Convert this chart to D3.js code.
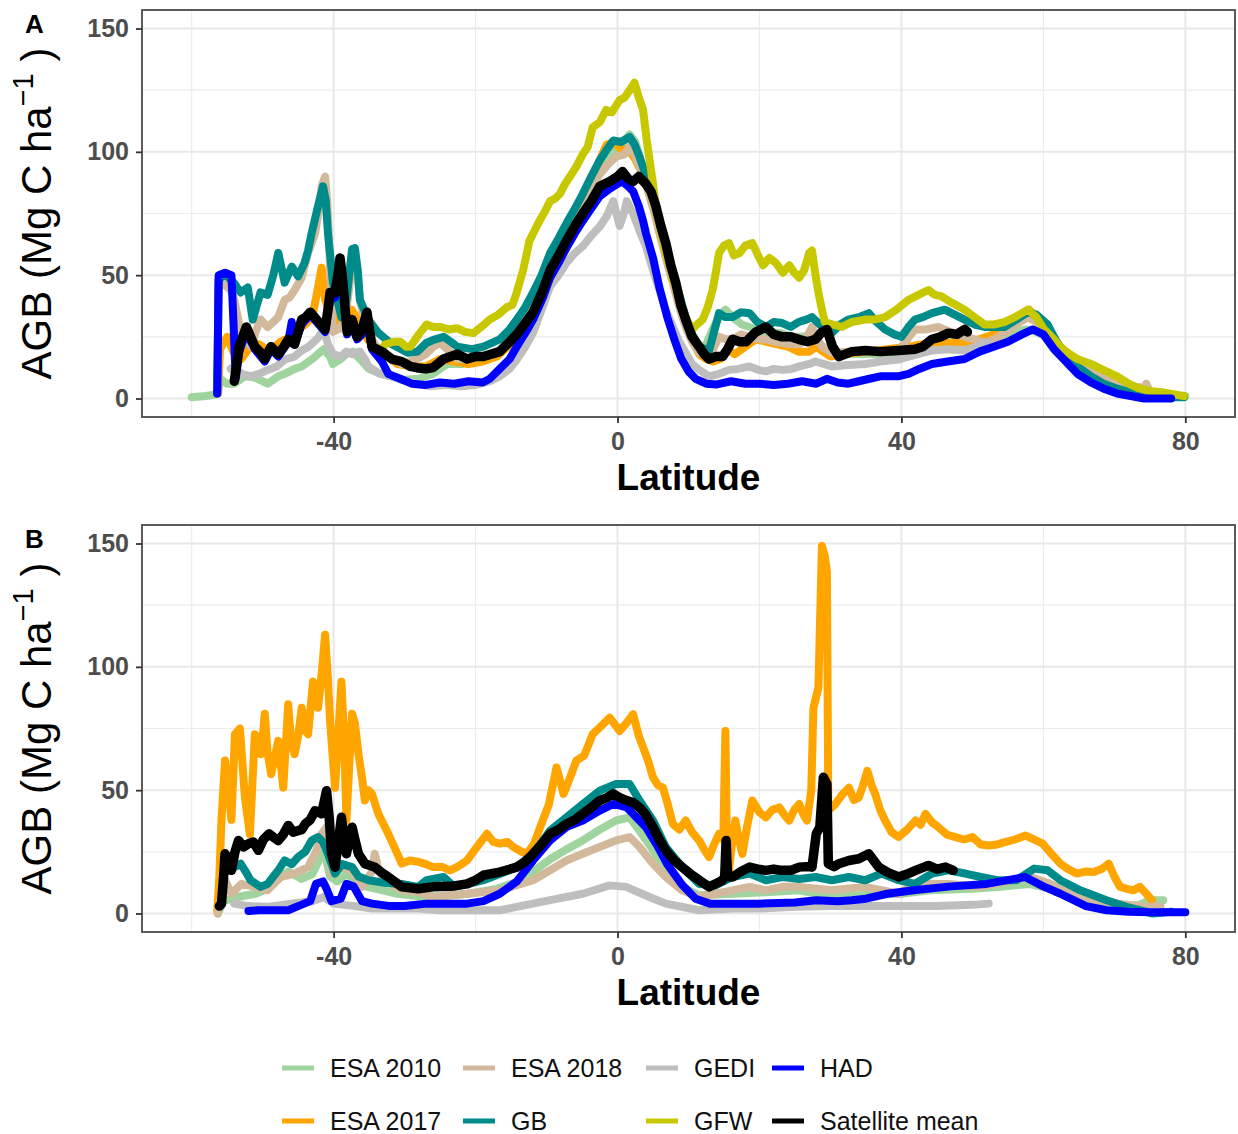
<!DOCTYPE html>
<html>
<head>
<meta charset="utf-8">
<script src="https://cdn.jsdelivr.net/npm/d3@7"></script>
<style>
  html, body { margin: 0; padding: 0; background: #fff; }
  svg { display: block; }
  text { font-family: "Liberation Sans", Arial, sans-serif; }
</style>
</head>
<body>
<svg id="chart" width="1238" height="1134"></svg>
<script>
// Mean above-ground biomass by latitude, panel A and panel B.
// Each series is a list of [latitude, AGB (Mg C / ha)] pairs.

const seriesNames = ["ESA 2010", "ESA 2017", "ESA 2018", "GB", "GEDI", "GFW", "HAD", "Satellite mean"];
const seriesColors = ["#9fd49f", "#ffa500", "#d2b99b", "#008b8b", "#bebebe", "#c8c800", "#0000ff", "#000000"];

const xTicks = [-40, 0, 40, 80];
const xMinor = [-60, -20, 20, 60];
const yTicks = [0, 50, 100, 150];
const yMinor = [25, 75, 125];

// ---------- Panel A ----------
const esa2010A = [[-60,0.5],[-58,1],[-56.9,1.5],[-56.3,2],[-56.0,8],[-55.0,6],[-54.0,6],[-52.5,9],[-51.1,8.5],[-49.3,6],[-47.8,9],[-46.9,10],[-45.5,12],[-44.5,13],[-43.0,16],[-42.2,18],[-41.4,20],[-40.5,17],[-40.1,14],[-39.0,16],[-38.2,18],[-37.3,19],[-36.3,16],[-35.0,12],[-33.4,10],[-31.8,9],[-30.4,7.5],[-28.0,8],[-26.0,10],[-24.0,14],[-22.0,14],[-20.0,15],[-18.0,17],[-16.0,21],[-14.2,28],[-12.5,36],[-11.0,44],[-9.5,55],[-8.0,63],[-6.5,71],[-5.0,79],[-3.5,87],[-2.0,94],[-0.8,100],[0.5,103],[1.7,107],[2.5,104],[3.3,96],[4.3,86],[5.3,75],[6.3,64],[7.3,54],[8.4,43],[9.5,33],[10.5,26],[11.5,21],[12.5,22],[13.4,28],[14.3,33],[15.2,36],[16.2,33],[17.5,30],[18.6,29],[20.0,27],[21.5,27],[23.0,26.5],[24.5,25],[26.0,25],[27.5,26],[28.5,22],[30.0,19],[32.0,18],[35.0,18],[38.0,18],[40.0,19],[42.0,20],[44.0,21],[46.0,22],[48.0,23],[50.0,22],[52.0,23],[54.0,25],[56.0,27],[57.5,28],[59.0,27],[60.5,25],[62.0,20],[64.0,16],[66.0,12],[68.0,9],[70.0,6],[72.0,4],[74.0,2],[76.0,1],[78.0,1],[80.0,1]];

const esa2017A = [[-56.3,2],[-56.0,20],[-55.0,25],[-54.0,18],[-53.0,16],[-52.0,20],[-50.5,22],[-49.0,19],[-47.5,23],[-46.0,25],[-45.0,28],[-44.0,30],[-43.0,33],[-42.2,45],[-41.7,53],[-41.2,40],[-40.5,35],[-39.7,30],[-39.0,38],[-38.4,30],[-37.5,36],[-37.0,34],[-36.2,30],[-35.2,24],[-34.0,20],[-32.5,17],[-31.0,14],[-29.0,13],[-27.0,13],[-25.0,16],[-23.0,15],[-21.0,14],[-19.0,15],[-17.0,17],[-15.5,21],[-14.0,27],[-12.5,34],[-11.0,42],[-9.5,53],[-8.0,62],[-6.5,70],[-5.0,80],[-4.0,87],[-3.0,93],[-2.0,100],[-1.5,103],[-0.5,104],[0.5,101],[1.5,101],[2.5,97],[3.5,91],[4.5,83],[5.5,73],[6.5,61],[7.5,50],[8.5,40],[9.5,31],[10.5,24],[11.5,18],[12.5,16],[13.5,15],[14.5,16],[15.5,20],[16.5,18],[18.0,21],[19.5,24],[21.0,23],[22.5,22],[24.0,21],[25.5,19],[27.0,19],[28.0,21],[29.0,19],[30.0,17],[32.0,18],[35.0,19],[38.0,20],[41.0,21],[43.0,22],[45.0,23],[47.0,22.6],[49.0,23],[51.0,24],[53.0,26],[55.0,30],[57.0,34],[58.0,36],[59.0,33],[60.5,29],[62.0,22],[64.0,17],[66.0,13],[68.0,10],[70.0,7],[72.0,5],[74.0,3],[76.0,1]];

const esa2018A = [[-56.4,2],[-56.2,46],[-55.3,46],[-54.5,44],[-54.0,40],[-53.5,33],[-53.1,27],[-52.3,24],[-51.6,21],[-51.0,27],[-50.3,32],[-49.3,29],[-48.5,31],[-47.8,33],[-46.9,40],[-46.2,41],[-45.5,44],[-44.5,49],[-43.6,59],[-42.6,67],[-42.0,78],[-41.7,86],[-41.2,90],[-40.9,80],[-40.5,53],[-40.1,27],[-39.3,28],[-38.4,32],[-37.8,45],[-37.4,56],[-37.0,57.5],[-36.6,50],[-36.3,40],[-35.6,31],[-35.1,26.6],[-34.2,22],[-33.2,18.5],[-31.8,16],[-30.4,14],[-29.3,15],[-28.3,16],[-27.0,18],[-25.9,21],[-25.0,22.6],[-24.0,20],[-22.6,16],[-21.0,16],[-18.9,17],[-16.6,19.5],[-15.3,24],[-14.2,29],[-13.0,34],[-11.9,40],[-10.7,47],[-9.5,55],[-8.3,61],[-7.2,67],[-6.0,73],[-4.9,79],[-3.7,85],[-2.5,91],[-1.3,95],[-0.2,98],[1.0,99],[1.7,102],[2.4,99],[3.1,94],[3.8,89],[4.5,82],[5.2,75],[5.9,67],[6.8,57],[7.8,47],[8.7,37],[9.6,29],[10.5,23],[11.5,18.5],[12.5,18],[13.4,19.5],[14.3,25],[15.2,24],[16.2,24],[17.4,26],[18.6,25],[19.8,24],[20.9,24],[22.0,23],[23.2,22.6],[24.4,22],[25.6,22],[26.5,24],[27.4,29],[28.0,25],[28.8,21],[30.2,18.5],[32.5,19],[34.9,19.5],[37.2,19],[39.6,19.5],[40.8,24],[41.9,28],[43.5,28],[45.2,29],[46.9,27],[48.9,25],[50.3,24],[51.7,22.6],[53.1,24],[54.5,26.6],[56.2,30],[57.8,33],[59.0,31],[60.1,28],[61.5,23],[62.9,18.5],[64.8,15],[66.7,12],[68.5,9],[70.4,6.5],[72.3,5],[74.2,4.4],[74.5,6],[74.8,4],[75.1,1],[77.0,0.5]];

const gbA = [[-56.4,2],[-56.2,48],[-55.5,50],[-54.8,49],[-54.0,46.7],[-53.1,43],[-52.1,45],[-51.4,32],[-50.8,38],[-50.3,43],[-49.3,42],[-48.5,50],[-47.8,59],[-46.9,47],[-45.9,53.5],[-45.0,49.5],[-44.1,55],[-43.6,60],[-43.1,67],[-42.2,78],[-41.5,86],[-41.1,80],[-40.8,67],[-40.1,47],[-39.5,40],[-38.9,33],[-38.2,40],[-37.4,60.6],[-37.0,61],[-36.6,52],[-36.3,40],[-35.1,32],[-33.7,26.6],[-31.8,22],[-29.5,18.5],[-28.2,19],[-26.9,22.6],[-25.7,24],[-24.5,25],[-23.5,23],[-22.6,21],[-20.5,20],[-18.9,21],[-16.6,24],[-15.2,28],[-14.2,32],[-13.0,37],[-11.9,43],[-10.7,50],[-9.5,59],[-8.3,65],[-7.2,71],[-6.0,77],[-4.9,83],[-3.7,90],[-2.5,96.6],[-1.5,101],[-0.6,104.6],[0.5,104],[1.7,106],[2.4,103],[3.1,98],[4.5,86],[5.9,72.7],[6.8,63],[7.8,51],[8.7,42],[9.6,33],[10.5,26],[11.5,21],[12.9,19.5],[13.6,27],[14.3,34.6],[15.2,33],[16.2,33],[17.4,35],[18.6,34.6],[19.7,31],[20.9,29],[22.0,31],[23.2,30.6],[24.4,29],[25.5,31],[26.6,32],[27.4,33],[28.5,30],[29.5,28],[30.2,26.6],[31.4,30],[32.5,32],[34.0,33],[35.4,34.6],[36.5,31],[37.7,28],[39.0,26],[40.0,25],[41.0,29],[41.9,32],[43.0,33],[44.3,34.6],[46.1,36],[47.5,34],[48.9,32],[50.3,30],[51.7,29],[53.1,29],[54.5,29],[56.2,32],[57.8,35],[59.0,34],[60.6,30],[61.7,24],[62.9,18.5],[64.8,13],[66.7,9],[68.5,6],[70.4,4],[72.3,2.5],[74.2,1],[77.0,0.5],[79.8,0.5]];

const gediA = [[-54.5,12],[-54.0,13],[-53.0,10],[-51.6,9],[-50.5,10],[-49.3,11.6],[-48.0,13],[-46.9,15.8],[-45.5,17],[-44.5,19.5],[-43.5,21],[-42.2,24.6],[-41.4,28],[-40.8,22],[-40.1,18],[-39.0,17],[-38.2,19],[-37.4,18],[-36.3,19],[-35.6,16],[-35.1,13],[-33.5,10],[-31.8,9],[-30.4,7.5],[-28.5,6],[-26.5,5],[-24.0,5.5],[-22.0,5],[-20.0,5.5],[-18.0,7],[-16.6,9],[-15.2,12],[-14.2,15.8],[-13.0,21],[-11.9,26.6],[-10.7,36],[-9.5,45.5],[-8.3,50],[-7.2,55],[-6.0,59],[-4.9,61.7],[-3.7,66],[-2.5,69.7],[-1.5,74],[-0.6,80],[0.3,70],[1.0,76],[1.3,80],[2.2,75],[3.1,68],[4.0,61.7],[5.0,52],[5.9,44],[6.8,36],[7.8,29],[8.7,23],[9.6,18.5],[10.5,14],[11.5,11.6],[12.9,9],[14.3,10],[15.7,11.6],[17.0,12],[18.6,13],[20.0,11.5],[20.9,11],[22.0,12],[23.2,11.6],[24.5,12],[25.6,13],[27.0,14],[27.9,15],[30.2,13],[32.0,13.5],[34.9,14],[37.0,15],[39.6,15.8],[41.0,17],[44.3,19.5],[46.5,20],[48.9,19.5],[50.5,21],[51.7,22.6],[52.6,22]];

const gfwA = [[-33.5,19],[-32.7,22],[-31.5,23],[-30.6,23],[-29.8,21],[-29.2,21],[-28.0,26],[-26.9,30],[-26.0,29],[-25.0,29],[-23.8,28],[-22.6,28.5],[-21.5,27],[-20.3,26.5],[-19.2,29],[-18.0,32],[-16.8,34],[-15.6,37],[-14.8,38],[-14.2,43],[-13.3,52],[-12.4,64],[-11.7,68],[-11.0,72],[-10.2,76],[-9.5,80],[-8.8,81],[-8.1,83],[-7.4,87],[-6.7,90],[-5.8,94],[-4.9,99],[-4.2,102],[-3.5,110],[-2.5,112],[-1.6,117],[-0.8,116],[0.3,121],[1.0,122],[1.7,125],[2.4,128],[3.0,122],[3.6,117],[4.1,105],[4.5,97],[5.0,87],[5.4,78],[6.1,68],[6.8,59],[7.7,50],[8.7,40],[9.6,33],[10.5,28],[11.2,30],[12.0,32],[12.7,37],[13.4,44],[13.9,52],[14.3,59],[15.0,62],[15.7,63],[16.4,58],[17.2,59],[18.0,62],[19.0,63],[19.8,58],[20.5,54],[21.4,57],[22.3,55],[23.3,51],[24.2,54],[24.9,51],[25.6,49],[26.3,52],[27.0,59],[27.4,60],[27.9,50],[28.3,43],[28.8,36],[29.2,31],[30.3,30],[31.6,29],[33.0,31],[34.9,32],[36.2,32],[37.7,33],[39.3,36],[41.0,40],[42.4,42],[43.8,44],[44.7,42],[45.6,41.5],[47.0,39],[48.9,36],[50.3,33],[51.7,30],[53.0,30],[54.5,31],[56.0,33],[57.8,36],[59.0,33],[60.1,28],[61.5,24],[62.9,19.5],[64.8,16],[66.7,14],[68.5,11.5],[70.4,9],[72.0,6],[73.2,4.4],[75.0,3],[77.0,2.4],[79.8,1]];

const hadA = [[-56.4,2],[-56.2,50],[-55.3,51],[-54.4,50],[-54.1,30],[-53.8,8],[-53.3,19],[-52.3,27],[-51.1,20],[-49.7,15],[-48.8,20],[-47.8,17],[-46.4,23],[-45.9,31],[-45.5,22],[-44.5,30],[-43.3,34],[-42.1,30],[-41.2,27],[-40.5,40],[-39.8,41],[-39.1,54],[-38.6,42],[-38.1,26],[-37.4,30],[-36.7,24],[-36.0,26],[-35.3,32],[-34.6,20],[-33.2,15],[-32.3,10],[-31.5,9],[-30.6,8],[-29.0,6],[-27.0,5.5],[-25.0,6.5],[-23.0,6],[-21.0,7],[-19.0,6.5],[-18.0,8],[-16.6,12],[-15.2,16],[-14.2,21],[-12.9,27],[-11.9,32],[-10.5,41],[-9.5,49],[-8.3,55],[-7.2,61],[-6.0,67],[-4.9,72],[-3.7,77],[-2.5,82],[-1.1,85],[0.0,87],[0.7,88],[1.5,86],[2.2,84],[3.0,78],[3.6,72],[4.0,67],[5.0,57],[5.9,45],[7.0,33],[8.0,24],[9.0,16],[10.0,11],[11.0,8],[12.5,6],[14.0,5.7],[16.0,7],[18.0,6],[20.0,6],[22.0,5.5],[24.0,6],[26.0,7],[28.0,6],[29.5,8],[31.0,6.5],[32.5,6],[34.0,7],[35.5,8],[37.0,9],[39.5,9],[41.0,10],[42.5,12],[44.3,14],[46.5,15],[48.9,16],[51.0,19],[53.0,21],[55.0,23],[57.0,26],[58.5,28],[60.0,26],[61.5,20],[62.9,15.8],[64.8,10],[66.7,6.5],[68.5,4],[70.4,2],[72.3,1],[74.2,0],[77.0,0],[78.0,0]];

const satMeanA = [[-54.0,7],[-53.3,21],[-52.3,29],[-51.7,25],[-51.1,21],[-50.4,19],[-49.7,16],[-49.2,19],[-48.8,21],[-47.8,18],[-47.0,21],[-46.4,24],[-45.5,22],[-45.0,27],[-44.5,32],[-43.9,33],[-43.3,35],[-42.7,33],[-42.1,31],[-41.2,28],[-40.8,36],[-40.5,43],[-39.8,43],[-39.3,52],[-39.1,57],[-38.8,50],[-38.6,44],[-38.1,27],[-37.4,32],[-36.7,25],[-36.0,28],[-35.5,33],[-35.3,35],[-34.9,27],[-34.6,21],[-33.2,19],[-31.8,16],[-30.4,15],[-29.2,13],[-28.3,12.5],[-27.0,12],[-26.0,12.5],[-24.5,16],[-22.6,18],[-21.2,16],[-20.0,17],[-18.9,17],[-16.6,19],[-15.2,23],[-14.2,26],[-12.9,31],[-11.9,35],[-10.5,44],[-9.5,52],[-8.3,58],[-7.2,64],[-6.0,70],[-4.9,75],[-3.7,80],[-2.5,86],[-1.1,88],[0.0,90],[0.7,92],[1.5,89],[2.2,88],[3.0,90],[4.0,87],[4.7,84],[5.4,78],[6.1,70],[6.8,63],[7.5,54],[8.2,47],[8.9,38],[9.6,32],[10.5,25],[11.5,21],[12.2,18],[12.9,16],[13.8,17],[14.8,17],[15.5,20],[16.2,24],[17.2,23],[18.1,23],[19.5,27],[20.9,29],[22.0,26],[23.2,25],[24.4,25],[25.5,24],[26.8,23],[27.9,24],[28.8,27],[29.5,28],[30.3,21],[31.2,17],[33.0,19],[34.9,19.5],[37.0,19],[39.6,19.5],[41.9,20],[43.0,21],[44.3,24],[45.5,25],[46.6,26.5],[47.8,26],[48.9,28],[49.3,27]];

// ---------- Panel B ----------
const esa2010B = [[-56.3,0],[-55.5,5],[-54.5,6],[-53.0,7],[-51.0,8],[-49.3,10],[-47.8,14],[-46.4,17],[-44.5,14],[-43.0,16],[-42.0,22],[-41.3,25],[-40.5,15],[-39.5,13],[-38.3,16],[-37.0,14],[-35.5,11],[-34.0,10],[-31.0,8],[-28.0,7],[-25.0,7],[-21.0,8],[-17.0,10],[-14.0,13],[-11.9,17],[-9.5,22],[-7.2,26],[-4.9,29.6],[-2.5,34],[-0.2,37.7],[1.7,39],[3.1,33.6],[5.0,25.6],[6.8,17.5],[9.1,10.8],[11.5,7.4],[16.2,8],[20.0,8.5],[25.6,9.4],[30.0,7],[35.0,7.5],[40.0,8],[44.0,9.4],[50.0,10],[54.0,10.8],[58.0,12],[61.0,10],[63.0,8],[67.0,4],[71.0,2.7],[73.5,3.5],[75.0,5.4],[76.9,5.4]];

const esa2017B = [[-56.4,1],[-56.1,15],[-55.8,38],[-55.3,62],[-54.8,50],[-54.4,38],[-53.9,72.7],[-53.2,75],[-52.5,47],[-51.8,32],[-51.1,72.7],[-50.6,70],[-50.2,64.6],[-49.7,81],[-49.3,65],[-48.8,56.5],[-47.8,70],[-47.1,51],[-46.7,70],[-46.4,84.8],[-46.0,70],[-45.5,64.6],[-45.0,72],[-44.5,83.4],[-44.0,74],[-43.6,72.7],[-42.9,94],[-42.5,88],[-42.2,83.4],[-41.7,97],[-41.2,113],[-40.8,95],[-40.5,78],[-39.8,51],[-39.4,70],[-38.9,94],[-38.5,70],[-38.2,37.7],[-37.8,60],[-37.4,81],[-37.0,77],[-36.5,64.6],[-36.0,55],[-35.6,45.8],[-35.1,50],[-34.6,48.5],[-33.7,40.4],[-32.3,32.3],[-31.3,26],[-30.4,20.2],[-29.3,21.5],[-28.1,21],[-27.0,20],[-26.0,18.8],[-24.8,19],[-23.6,17.5],[-22.5,19],[-21.2,21.5],[-19.8,27],[-18.4,32.3],[-17.5,29],[-16.6,28.3],[-15.5,29],[-14.7,27],[-13.5,25],[-12.8,24.2],[-11.8,28],[-10.9,35],[-9.7,44],[-8.6,59.2],[-7.6,48.5],[-6.7,55],[-5.8,62],[-4.7,64],[-3.5,72.7],[-2.3,76],[-1.1,79.4],[0.3,74],[1.2,77],[2.2,80.8],[3.0,72],[3.6,67.3],[4.3,62],[5.0,55.2],[5.7,52],[6.4,51],[7.1,44],[7.8,36.3],[8.7,34],[9.6,37.7],[10.5,33],[11.5,29.6],[12.2,26],[12.9,22.9],[13.6,28],[14.3,32.3],[14.9,30],[15.2,74],[15.4,30],[15.7,17.5],[16.2,30],[16.6,37.7],[17.1,30],[17.6,24.2],[18.3,36],[19.0,45.8],[20.0,41],[20.9,39],[21.8,42],[22.8,43],[23.5,40],[24.2,37.7],[24.9,42],[25.6,44.4],[26.2,40],[26.7,37.7],[27.3,50],[27.6,83.4],[28.3,91.5],[28.8,149],[29.2,145],[29.5,138.6],[29.7,41.7],[30.7,44.4],[31.6,48],[32.6,51],[33.3,46],[34.0,47],[34.6,52],[35.2,57.8],[35.8,52],[36.3,48.5],[37.0,42],[37.7,37.7],[38.6,33],[39.6,31],[40.8,34],[42.0,37.7],[42.7,36],[43.4,40.4],[44.3,37],[45.2,35],[46.4,32],[47.6,31],[48.8,30],[50.0,31],[51.2,28],[52.3,27.6],[53.5,28],[54.7,29],[56.0,30],[57.5,31.6],[58.7,30],[59.9,28.3],[61.2,24],[62.4,20.2],[63.5,18],[64.7,16.2],[65.9,17],[67.1,16.8],[68.2,18],[69.2,20.2],[70.0,15],[70.8,10.8],[71.8,10],[72.7,9.4],[73.6,10.8],[74.5,8],[75.3,5.4]];

const esa2018B = [[-56.3,0],[-55.3,13.5],[-54.4,8],[-53.0,12],[-51.1,10.8],[-49.3,9.4],[-47.5,14.8],[-45.5,16.2],[-43.6,18.8],[-42.5,25],[-41.7,32.3],[-41.0,35],[-40.3,16.2],[-38.9,18.8],[-37.4,17.5],[-36.0,10.8],[-34.6,17],[-34.2,24.2],[-33.7,18],[-32.8,13.5],[-30.4,9.4],[-28.1,8.7],[-26.0,6.7],[-21.2,8],[-16.6,9.4],[-11.9,13.5],[-9.5,17.5],[-7.2,21.5],[-4.9,24.2],[-2.5,27],[-0.2,29.6],[1.7,31],[3.1,27],[5.0,20.2],[6.8,14.8],[9.1,9.4],[11.5,6.7],[13.8,8],[16.2,9.4],[18.6,10.8],[20.9,9.4],[23.2,10.8],[25.6,10.8],[30.2,9.4],[34.9,10.8],[39.6,8],[41.9,12],[46.6,12],[51.2,10.8],[55.8,13.5],[58.2,14.8],[61.0,12],[63.8,8],[67.6,5.4],[70.4,4],[74.2,2.7],[76.5,2.7]];

const gbB = [[-54.0,18.8],[-53.1,20.2],[-52.4,17],[-51.7,13.5],[-50.3,10.8],[-49.3,12],[-47.8,17.5],[-46.9,21.5],[-45.9,20],[-45.0,22.9],[-44.0,25],[-43.1,29.6],[-42.2,31],[-41.5,29],[-40.8,24.2],[-39.8,16.2],[-38.8,20],[-37.4,18.8],[-36.5,15],[-35.1,13.5],[-33.0,12.5],[-30.4,12],[-28.1,10.8],[-26.9,13.5],[-24.5,14.8],[-23.0,10.8],[-21.0,12],[-18.9,13.5],[-16.6,16],[-14.2,18.8],[-11.9,24.2],[-9.5,33.6],[-7.2,39],[-4.9,44.4],[-2.5,49.8],[-0.2,52.5],[1.7,52.5],[3.1,45.8],[5.0,37.7],[6.8,27],[9.1,18.8],[11.5,12],[13.8,11.4],[16.2,14.8],[18.6,16.2],[20.9,13.5],[23.2,14.8],[25.6,14],[27.9,14.8],[30.2,13.5],[32.6,14.8],[34.9,13.5],[37.2,16.2],[39.6,13.5],[41.9,12],[44.3,16.2],[46.6,17.5],[49.0,16.2],[51.2,14.8],[53.5,13.5],[56.2,13.5],[58.7,18.2],[60.6,17.5],[62.4,13.5],[65.2,9.4],[68.9,5.4],[71.7,2.7],[75.4,0],[78.0,0.7]];

const gediB = [[-54.0,4],[-52.0,3],[-49.3,2.7],[-46.0,4],[-43.0,5],[-41.4,6.7],[-40.0,4],[-37.0,3],[-34.6,2],[-31.0,2],[-28.1,2],[-25.0,1.3],[-20.0,1.3],[-16.6,1.3],[-14.2,2.7],[-9.5,5.4],[-4.9,8],[-1.1,11.4],[1.2,10.8],[4.5,6.7],[6.8,4],[11.5,1.3],[16.2,2],[20.0,2],[25.0,2.7],[30.0,3],[35.0,3],[40.0,3],[45.0,3],[50.0,3.5],[52.3,4]];

const hadB = [[-52.0,1],[-50.6,1.3],[-48.0,1.3],[-46.4,1.3],[-45.0,3],[-43.3,5],[-42.5,12],[-41.5,13],[-41.0,10],[-40.3,5],[-39.0,6],[-38.2,12],[-37.2,11],[-36.0,5],[-34.6,4],[-32.0,3],[-30.0,3],[-26.9,4],[-24.0,4],[-21.2,4],[-18.9,5],[-16.6,8],[-14.2,13],[-11.9,21.5],[-9.5,29.6],[-7.2,35],[-4.9,37.7],[-2.5,41.7],[-0.6,44.4],[1.3,43],[2.2,40.4],[4.0,35],[5.5,28],[7.0,20],[9.0,12],[11.0,6],[13.0,4],[15.0,4],[20.0,4],[25.0,4.5],[28.0,5.4],[31.0,5],[33.0,5.4],[35.0,6],[38.0,8],[42.0,9.5],[47.0,11],[52.0,12],[57.4,14.8],[60.0,11],[62.4,8],[66.0,3],[68.9,1.3],[72.0,0.7],[75.0,0.5],[77.0,0.5],[80.0,0.5]];

const satMeanB = [[-56.1,3],[-55.8,4],[-55.5,15],[-55.3,24.2],[-54.8,22],[-54.4,17.5],[-53.9,25],[-53.4,29.6],[-52.7,27],[-52.0,28.3],[-51.3,29],[-50.6,25.6],[-49.9,30],[-49.1,32.3],[-48.5,31],[-47.8,29.6],[-47.1,32],[-46.4,35.7],[-45.7,33],[-45.0,33.6],[-44.5,34],[-44.0,36.3],[-43.3,38],[-42.6,41.7],[-41.7,40.4],[-41.0,49.8],[-40.6,38],[-40.3,24.2],[-39.8,18.8],[-39.3,30],[-38.9,39],[-38.6,32],[-38.2,24.2],[-37.8,30],[-37.4,35],[-37.0,30],[-36.5,24.2],[-35.6,20.2],[-34.2,18.8],[-33.2,16.5],[-32.3,14.8],[-30.4,10.8],[-28.1,10],[-26.0,10.8],[-23.5,11],[-21.2,12],[-20.0,13.5],[-18.9,15.5],[-16.6,16.8],[-14.2,18.8],[-13.0,21],[-11.9,24.2],[-10.7,28],[-9.5,32.3],[-8.3,34],[-7.2,36.3],[-6.0,38],[-4.9,40.4],[-3.7,43],[-2.5,45.8],[-1.5,47],[-0.6,48.5],[0.3,47],[1.3,45.8],[2.2,45],[3.1,43],[4.0,40],[5.0,35],[5.9,30],[6.8,25.6],[8.0,21.5],[9.1,18.8],[10.3,16],[11.5,13.5],[12.9,10.8],[13.8,12],[14.8,13.5],[15.1,15],[15.3,29.6],[15.5,15],[16.2,14.8],[17.4,17],[18.6,18.8],[19.8,18],[20.9,17.5],[22.0,18],[23.2,17.5],[24.4,17.5],[25.6,18.8],[26.6,19],[27.4,18.8],[28.0,32.3],[28.5,35],[29.0,55.2],[29.5,52.5],[29.7,20.2],[30.5,19],[31.2,20.2],[32.6,21.5],[34.0,22.2],[35.4,24.2],[36.8,18.8],[38.2,16.5],[39.6,14.8],[40.8,16],[42.0,17.5],[43.8,19.5],[45.0,18],[46.2,18.8],[47.3,17.5]];

// Series per panel, in legend (drawing) order; null = not shown in that panel.
const panelA = [esa2010A, esa2017A, esa2018A, gbA, gediA, gfwA, hadA, satMeanA];
const panelB = [esa2010B, esa2017B, esa2018B, gbB, gediB, null, hadB, satMeanB];

// ---------- Drawing ----------
const svg = d3.select("#chart");
const FONT = '"Liberation Sans", Arial, sans-serif';
const plotLeft = 142, plotRight = 1235;

const x = d3.scaleLinear().domain([-67, 87]).range([plotLeft, plotRight]);

function drawPanel(tag, data, top, bottom) {
  const y = d3.scaleLinear().domain([-7.5, 157.5]).range([bottom, top]);
  const g = svg.append("g");
  const clipId = "clip-" + tag;

  svg.append("clipPath").attr("id", clipId)
    .append("rect").attr("x", plotLeft).attr("y", top)
    .attr("width", plotRight - plotLeft).attr("height", bottom - top);

  // grid
  const grid = g.append("g");
  grid.selectAll(".vmin").data(xMinor).join("line")
    .attr("x1", d => x(d)).attr("x2", d => x(d)).attr("y1", top).attr("y2", bottom)
    .attr("stroke", "#ebebeb").attr("stroke-width", 1.1);
  grid.selectAll(".hmin").data(yMinor).join("line")
    .attr("y1", d => y(d)).attr("y2", d => y(d)).attr("x1", plotLeft).attr("x2", plotRight)
    .attr("stroke", "#ebebeb").attr("stroke-width", 1.1);
  grid.selectAll(".vmaj").data(xTicks).join("line")
    .attr("x1", d => x(d)).attr("x2", d => x(d)).attr("y1", top).attr("y2", bottom)
    .attr("stroke", "#e8e8e8").attr("stroke-width", 2);
  grid.selectAll(".hmaj").data(yTicks).join("line")
    .attr("y1", d => y(d)).attr("y2", d => y(d)).attr("x1", plotLeft).attr("x2", plotRight)
    .attr("stroke", "#e8e8e8").attr("stroke-width", 2);

  // series lines
  const line = d3.line().x(d => x(d[0])).y(d => y(d[1]));
  const lines = g.append("g").attr("clip-path", `url(#${clipId})`);
  data.forEach((s, i) => {
    if (!s) return;
    lines.append("path")
      .attr("d", line(s))
      .attr("fill", "none")
      .attr("stroke", seriesColors[i])
      .attr("stroke-width", seriesNames[i] === "Satellite mean" ? 9.5 : 8)
      .attr("stroke-linejoin", "round")
      .attr("stroke-linecap", "round");
  });

  // border
  g.append("rect").attr("x", plotLeft).attr("y", top)
    .attr("width", plotRight - plotLeft).attr("height", bottom - top)
    .attr("fill", "none").attr("stroke", "#4a4a4a").attr("stroke-width", 1.8);

  // axes
  const xAxis = g.append("g").attr("transform", `translate(0,${bottom})`)
    .call(d3.axisBottom(x).tickValues(xTicks).tickSize(6).tickPadding(9).tickFormat(d3.format("d")));
  const yAxis = g.append("g").attr("transform", `translate(${plotLeft},0)`)
    .call(d3.axisLeft(y).tickValues(yTicks).tickSize(6).tickPadding(7).tickFormat(d3.format("d")));
  [xAxis, yAxis].forEach(a => {
    a.select(".domain").remove();
    a.selectAll(".tick line").attr("stroke", "#333").attr("stroke-width", 1.8);
    a.selectAll(".tick text")
      .attr("font-family", FONT).attr("font-size", 25).attr("font-weight", "bold")
      .attr("fill", "#4d4d4d");
  });
  xAxis.selectAll(".tick text").text(d => d < 0 ? "-" + Math.abs(d) : d);

  // x title
  g.append("text").attr("x", (plotLeft + plotRight) / 2).attr("y", bottom + 73)
    .attr("text-anchor", "middle").attr("font-family", FONT)
    .attr("font-size", 37).attr("font-weight", "bold").attr("fill", "#000")
    .text("Latitude");

  // y title with superscript
  const cy = (top + bottom) / 2;
  const yt = g.append("text")
    .attr("transform", `translate(51,${cy}) rotate(-90)`)
    .attr("text-anchor", "middle").attr("font-family", FONT)
    .attr("font-size", 42).attr("fill", "#000");
  yt.append("tspan").text("AGB (Mg C ha");
  yt.append("tspan").attr("font-size", 29).attr("dy", -18).text("\u22121");
  yt.append("tspan").attr("dy", 18).text(" )");

  // panel tag
  g.append("text").attr("x", 25).attr("y", top + 23)
    .attr("font-family", FONT).attr("font-size", 26).attr("font-weight", "bold")
    .attr("fill", "#000").text(tag);
}

drawPanel("A", panelA, 10, 417);
drawPanel("B", panelB, 525, 932);

// legend: two rows, filled column by column
const legendKeyX = [282, 463, 646, 772];
const legendRowY = [1068, 1121];
const legend = svg.append("g");
seriesNames.forEach((name, i) => {
  const col = Math.floor(i / 2), row = i % 2;
  const kx = legendKeyX[col], ky = legendRowY[row];
  legend.append("line")
    .attr("x1", kx).attr("x2", kx + 32).attr("y1", ky).attr("y2", ky)
    .attr("stroke", seriesColors[i]).attr("stroke-width", 5);
  legend.append("text")
    .attr("x", kx + 48).attr("y", ky).attr("dy", "0.36em")
    .attr("font-family", FONT).attr("font-size", 25).attr("fill", "#111")
    .text(name);
});
</script>
</body>
</html>
